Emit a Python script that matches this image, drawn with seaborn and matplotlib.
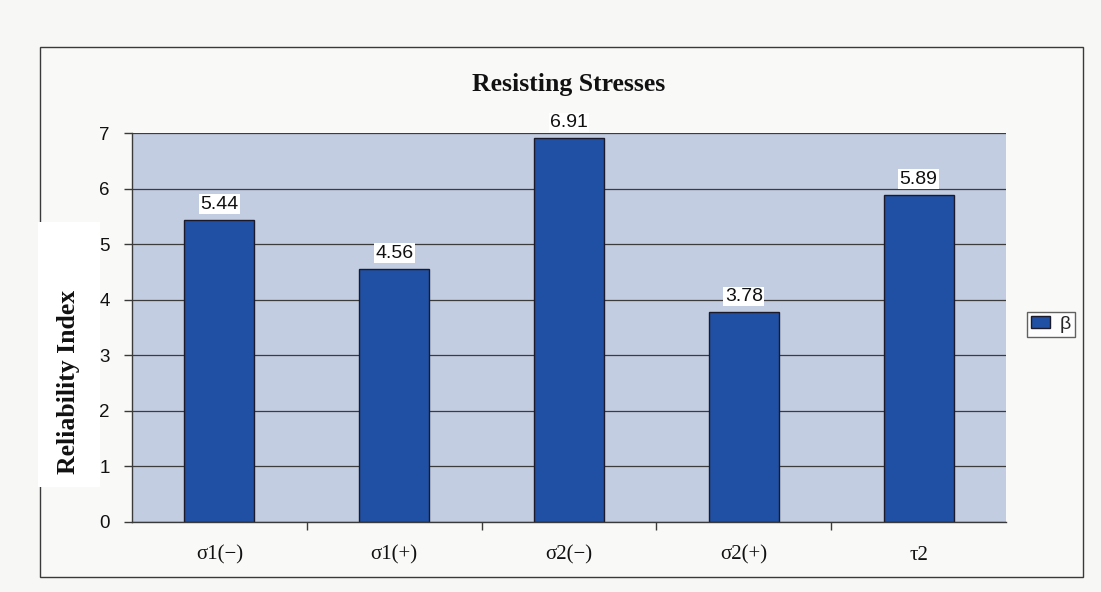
import matplotlib
matplotlib.use("Agg")
import matplotlib.pyplot as plt
from matplotlib.patches import Rectangle
import pandas as pd
import seaborn as sns

# Reliability index per stress component
categories = ["σ1(−)", "σ1(+)", "σ2(−)", "σ2(+)", "τ2"]
beta_values = [5.44, 4.56, 6.91, 3.78, 5.89]
y_ticks = [0, 1, 2, 3, 4, 5, 6, 7]
series_name = "β"

sns.set_theme(style="white")
plt.rcParams["font.family"] = ["Liberation Sans", "DejaVu Sans"]

W, H = 1101, 592
fig = plt.figure(figsize=(W / 100, H / 100), dpi=100, facecolor="#f7f7f5")

# Outer chart frame
fig.add_artist(Rectangle((40 / W, 1 - 577 / H), (1083 - 40) / W, (577 - 47) / H,
                         transform=fig.transFigure, facecolor="#f9f9f8",
                         edgecolor="#3a3a3a", linewidth=1.0, zorder=-2))
# White label panel at the left edge of the frame
fig.add_artist(Rectangle((38 / W, 1 - 487 / H), (100 - 38) / W, (487 - 222) / H,
                         transform=fig.transFigure, facecolor="white",
                         edgecolor="none", zorder=-1))

ax = fig.add_axes([132 / W, 1 - 522 / H, (1006 - 132) / W, (522 - 133) / H])
ax.set_facecolor("#c2cde2")

df = pd.DataFrame({"component": categories, "beta": beta_values})
sns.barplot(data=df, x="component", y="beta", color="#2050a4", saturation=1,
            width=0.4, edgecolor="#1a1a2a", linewidth=1.0, label=series_name, ax=ax)

ax.set_ylim(0, 7)
ax.set_yticks(y_ticks)
ax.set_axisbelow(True)
ax.yaxis.grid(True, color="#3c3c3c", linewidth=0.9)
ax.xaxis.grid(False)

for side in ["top", "right"]:
    ax.spines[side].set_visible(False)
for side in ["left", "bottom"]:
    ax.spines[side].set_color("#3a3a3a")
    ax.spines[side].set_linewidth(1.0)

# Category boundaries get small tick marks; centre ticks are hidden
ax.set_xticks([i + 0.5 for i in range(len(categories) - 1)], minor=True)
ax.tick_params(axis="x", which="minor", bottom=True, length=6, width=1.0, color="#3a3a3a")
ax.tick_params(axis="x", which="major", bottom=True, length=0, pad=17)
ax.tick_params(axis="y", left=True, length=6, width=1.0, color="#3a3a3a", pad=10,
               labelsize=13.5, labelcolor="#111111")
for lbl in ax.get_xticklabels():
    lbl.set_fontfamily(["Liberation Serif", "DejaVu Serif"])
    lbl.set_fontsize(15)
    lbl.set_color("#111111")

ax.set_xlabel("")
ax.set_ylabel("Reliability Index", fontfamily=["Liberation Serif", "DejaVu Serif"],
              fontweight="bold", fontsize=18.5, color="#111111")
ax.yaxis.set_label_coords(-0.060, 0.36)

# Value labels above each bar
for container in ax.containers:
    ax.bar_label(container, labels=[f"{v:.2f}" for v in beta_values], padding=5,
                 fontsize=14, color="#111111",
                 bbox=dict(facecolor="white", edgecolor="none", pad=1.0))

fig.text(0.5167, 1 - 84 / H, "Resisting Stresses", ha="center", va="center",
         fontfamily=["Liberation Serif", "DejaVu Serif"], fontweight="bold",
         fontsize=18.5, color="#111111")

leg = ax.legend(loc="upper left", bbox_to_anchor=(1027 / W, 1 - 312 / H),
                bbox_transform=fig.transFigure, fontsize=14, frameon=True,
                fancybox=False, edgecolor="#3a3a3a", handlelength=1.0,
                handleheight=0.6, handletextpad=0.5, borderpad=0.2,
                borderaxespad=0)
leg.get_frame().set_linewidth(1.0)
leg.get_frame().set_facecolor("white")

fig.savefig("out.png", dpi=100, facecolor=fig.get_facecolor())
